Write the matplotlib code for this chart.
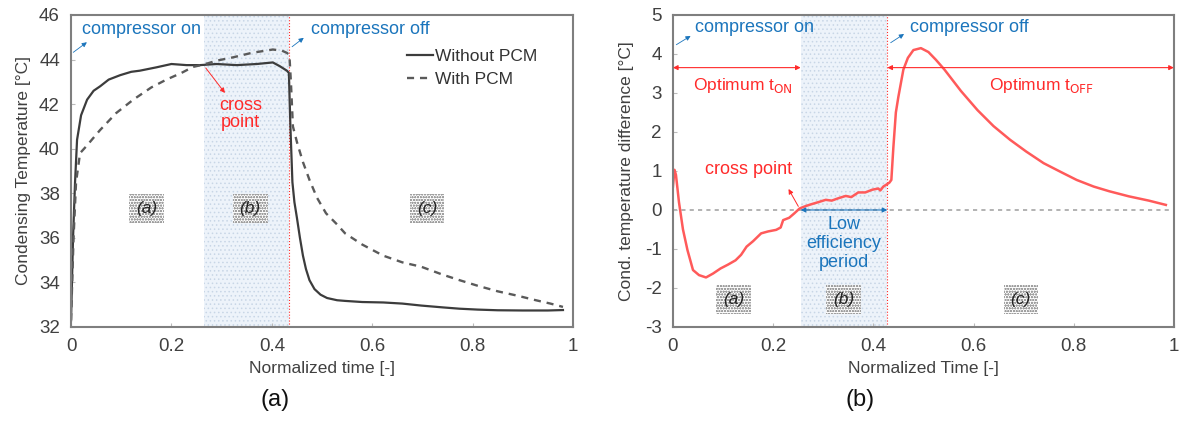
import matplotlib
matplotlib.use("Agg")
import matplotlib.pyplot as plt

plt.rcParams["font.family"] = ["Liberation Sans", "DejaVu Sans"]
plt.rcParams["hatch.linewidth"] = 0.6
plt.rcParams["axes.unicode_minus"] = False

# ---- panel (a): condensing temperature ----
t_without = [0, 0.004, 0.008, 0.012, 0.02, 0.032, 0.045, 0.058, 0.075, 0.098, 0.12, 0.137,
             0.17, 0.2, 0.23, 0.257, 0.29, 0.33, 0.37, 0.402, 0.416, 0.43, 0.434, 0.437,
             0.441, 0.445, 0.45, 0.456, 0.462, 0.468, 0.475, 0.485, 0.497, 0.51, 0.53,
             0.546, 0.58, 0.622, 0.66, 0.698, 0.74, 0.774, 0.81, 0.85, 0.9, 0.95, 0.98]
T_without = [32.3, 36.0, 38.5, 40.4, 41.5, 42.2, 42.6, 42.8, 43.1, 43.3, 43.45, 43.5,
             43.65, 43.8, 43.75, 43.75, 43.8, 43.75, 43.8, 43.87, 43.7, 43.5, 43.4, 41.0,
             38.5, 37.6, 36.9, 36.0, 35.2, 34.6, 34.1, 33.7, 33.45, 33.3, 33.2,
             33.17, 33.12, 33.1, 33.05, 32.96, 32.88, 32.82, 32.78, 32.75, 32.74, 32.74, 32.76]

t_with = [0, 0.005, 0.01, 0.018, 0.03, 0.058, 0.09, 0.124, 0.16, 0.19, 0.22, 0.243, 0.265,
          0.29, 0.323, 0.36, 0.402, 0.42, 0.43, 0.435, 0.438, 0.442, 0.45, 0.462, 0.475,
          0.49, 0.508, 0.53, 0.546, 0.58, 0.622, 0.66, 0.698, 0.74, 0.774, 0.81, 0.85,
          0.89, 0.926, 0.955, 0.98]
T_with = [32.3, 36.0, 38.5, 39.8, 40.1, 40.84, 41.6, 42.2, 42.75, 43.1, 43.4, 43.67, 43.78,
          43.95, 44.1, 44.3, 44.45, 44.4, 44.3, 44.2, 43.0, 41.0, 40.3, 39.4, 38.6,
          37.8, 37.1, 36.6, 36.2, 35.7, 35.2, 34.9, 34.7, 34.35, 34.1, 33.85, 33.6,
          33.4, 33.2, 33.05, 32.9]

# ---- panel (b): temperature difference ----
t_diff = [0, 0.003, 0.006, 0.012, 0.02, 0.029, 0.04, 0.052, 0.066, 0.08, 0.095, 0.11, 0.125,
          0.136, 0.147, 0.16, 0.176, 0.19, 0.206, 0.215, 0.22, 0.232, 0.242, 0.253, 0.265,
          0.277, 0.29, 0.305, 0.317, 0.33, 0.345, 0.356, 0.37, 0.384, 0.398, 0.41, 0.414,
          0.42, 0.426, 0.432, 0.436, 0.44, 0.445, 0.45, 0.46, 0.469, 0.48, 0.495, 0.51,
          0.525, 0.542, 0.575, 0.608, 0.64, 0.673, 0.705, 0.74, 0.775, 0.806, 0.84, 0.871,
          0.91, 0.95, 0.984]
dT = [0.6, 1.03, 0.9, 0.2, -0.5, -1.03, -1.54, -1.67, -1.73, -1.63, -1.5, -1.4, -1.29,
      -1.15, -0.94, -0.8, -0.6, -0.55, -0.51, -0.45, -0.26, -0.2, -0.09, 0.04, 0.1,
      0.15, 0.2, 0.26, 0.24, 0.3, 0.36, 0.33, 0.45, 0.45, 0.52, 0.55, 0.5,
      0.6, 0.65, 0.7, 0.77, 1.6, 2.5, 2.9, 3.6, 3.9, 4.1, 4.15, 4.05,
      3.85, 3.6, 3.05, 2.56, 2.15, 1.8, 1.5, 1.2, 0.97, 0.77, 0.6, 0.48,
      0.35, 0.24, 0.13]

xticks = [0, 0.2, 0.4, 0.6, 0.8, 1]
xticklabels = ["0", "0.2", "0.4", "0.6", "0.8", "1"]
yticks_a = [32, 34, 36, 38, 40, 42, 44, 46]
yticks_b = [-3, -2, -1, 0, 1, 2, 3, 4, 5]

BLUE = "#1b75bc"
RED = "#ff2a2a"
SPINE = "#7f7f7f"
TXT = "#404040"

fig = plt.figure(figsize=(11.8, 4.23), dpi=100)
axA = fig.add_axes([0.0602, 0.227, 0.4254, 0.7376])
axB = fig.add_axes([0.5703, 0.227, 0.4245, 0.7376])


def style(ax):
    for s in ax.spines.values():
        s.set_color(SPINE)
        s.set_linewidth(1.5)
    ax.tick_params(direction="in", length=3, color="#bbbbbb", labelsize=13.5,
                   labelcolor=TXT, pad=8)
    ax.set_xticks(xticks)
    ax.set_xticklabels(xticklabels)


def region_box(ax, x, y, s):
    ax.text(x, y, s, fontsize=12.5, style="italic", color="#222222", ha="center", va="center",
            bbox=dict(boxstyle="square,pad=0.4", fc="white", ec="#a0a0a0", lw=0,
                      hatch="oooooo"))


# panel (a)
style(axA)
axA.axvspan(0.265, 0.434, fc="#edf3fa", ec="#c8d6e6", lw=0, hatch="....", zorder=0)
axA.axvline(0.434, color=RED, lw=0.8, ls=":", zorder=1)
axA.plot(t_without, T_without, color="#3c3c3c", lw=1.6, label="Without PCM")
axA.plot(t_with, T_with, color="#5a5a5a", lw=1.7, ls=(0, (3, 2.5)), label="With PCM")
axA.set_xlim(0, 1)
axA.set_ylim(32, 46)
axA.set_yticks(yticks_a)
axA.set_xlabel("Normalized time [-]", fontsize=12.5, color=TXT, labelpad=4)
axA.set_ylabel("Condensing Temperature [°C]", fontsize=12.5, color=TXT, labelpad=6)
leg = axA.legend(loc="upper right", bbox_to_anchor=(0.96, 0.94), frameon=False, fontsize=12.5,
                 handlelength=1.5, handletextpad=0.1, labelspacing=0.45)
for txt in leg.get_texts():
    txt.set_color("#333333")

axA.annotate("", xy=(0.036, 44.85), xytext=(0.0, 44.25),
             arrowprops=dict(arrowstyle="-|>", color=BLUE, lw=0.6, mutation_scale=7))
axA.text(0.022, 45.33, "compressor on", color=BLUE, fontsize=13, va="center")
axA.annotate("", xy=(0.468, 45.05), xytext=(0.436, 44.5),
             arrowprops=dict(arrowstyle="-|>", color=BLUE, lw=0.6, mutation_scale=7))
axA.text(0.478, 45.33, "compressor off", color=BLUE, fontsize=13, va="center")
axA.annotate("", xy=(0.31, 42.4), xytext=(0.265, 43.72),
             arrowprops=dict(arrowstyle="-|>", color=RED, lw=0.7, mutation_scale=7))
axA.text(0.338, 41.55, "cross\npoint", color=RED, fontsize=13, ha="center", va="center",
         linespacing=1.05)
region_box(axA, 0.151, 37.3, "(a)")
region_box(axA, 0.357, 37.3, "(b)")
region_box(axA, 0.709, 37.3, "(c)")

# panel (b)
style(axB)
axB.axvspan(0.255, 0.428, fc="#edf3fa", ec="#c8d6e6", lw=0, hatch="....", zorder=0)
axB.axvline(0.428, color=RED, lw=0.8, ls=":", zorder=1)
axB.axhline(0, color="#a6a6a6", lw=1.2, ls=(0, (2.5, 2.5)), zorder=1)
axB.plot(t_diff, dT, color="#ff5a5a", lw=1.8)
axB.set_xlim(0, 1)
axB.set_ylim(-3, 5)
axB.set_yticks(yticks_b)
axB.set_xlabel("Normalized Time [-]", fontsize=12.5, color=TXT, labelpad=4)
axB.set_ylabel("Cond. temperature difference [°C]", fontsize=12.5, color=TXT, labelpad=8)

axB.annotate("", xy=(0.04, 4.5), xytext=(0.002, 4.2),
             arrowprops=dict(arrowstyle="-|>", color=BLUE, lw=0.6, mutation_scale=7))
axB.text(0.044, 4.67, "compressor on", color=BLUE, fontsize=13, va="center")
axB.annotate("", xy=(0.466, 4.55), xytext=(0.43, 4.25),
             arrowprops=dict(arrowstyle="-|>", color=BLUE, lw=0.6, mutation_scale=7))
axB.text(0.473, 4.67, "compressor off", color=BLUE, fontsize=13, va="center")

axB.annotate("", xy=(0.0, 3.65), xytext=(0.255, 3.65),
             arrowprops=dict(arrowstyle="<|-|>", color=RED, lw=0.8, mutation_scale=7,
                             shrinkA=0, shrinkB=0))
axB.text(0.04, 3.2, "Optimum t$_{\\mathrm{ON}}$", color=RED, fontsize=12.5, va="center")
axB.annotate("", xy=(0.428, 3.65), xytext=(1.0, 3.65),
             arrowprops=dict(arrowstyle="<|-|>", color=RED, lw=0.8, mutation_scale=7,
                             shrinkA=0, shrinkB=0))
axB.text(0.63, 3.2, "Optimum t$_{\\mathrm{OFF}}$", color=RED, fontsize=12.5, va="center")

axB.annotate("", xy=(0.228, 0.6), xytext=(0.253, 0.03),
             arrowprops=dict(arrowstyle="-|>", color=RED, lw=0.7, mutation_scale=7))
axB.text(0.15, 1.03, "cross point", color=RED, fontsize=13, ha="center", va="center")

axB.annotate("", xy=(0.255, 0.0), xytext=(0.428, 0.0),
             arrowprops=dict(arrowstyle="<|-|>", color=BLUE, lw=0.8, mutation_scale=7,
                             shrinkA=0, shrinkB=0))
axB.text(0.341, -0.85, "Low\nefficiency\nperiod", color=BLUE, fontsize=13, ha="center",
         va="center", linespacing=1.15)
region_box(axB, 0.121, -2.29, "(a)")
region_box(axB, 0.341, -2.29, "(b)")
region_box(axB, 0.694, -2.29, "(c)")

fig.text(275 / 1180, 1 - 400 / 423, "(a)", fontsize=17, ha="center", va="center", color="#111111")
fig.text(860 / 1180, 1 - 400 / 423, "(b)", fontsize=17, ha="center", va="center", color="#111111")

plt.savefig("out.png", dpi=100)
plt.close()
